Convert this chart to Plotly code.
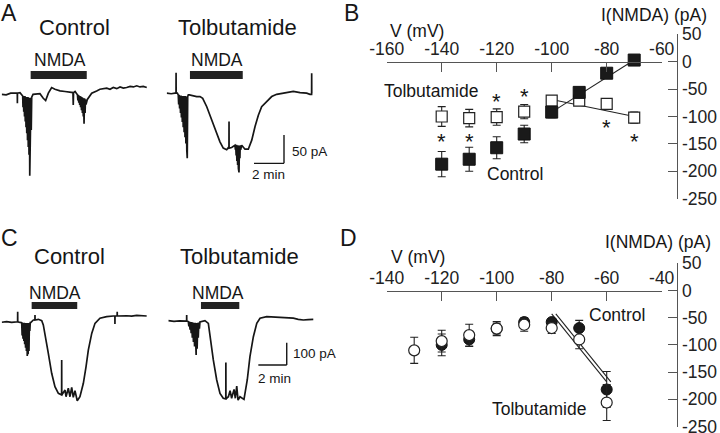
import plotly.graph_objects as go

# ---------------- data ----------------
# panel A: NMDA currents (time in min, current in pA)
a_ctrl_t = [0.00, 0.30, 0.60, 1.00, 1.04, 1.045, 1.05, 1.22, 1.38,
            1.40, 1.42, 1.45, 1.47, 1.50, 1.52, 1.55, 1.57, 1.60, 1.62, 1.65, 1.67, 1.70,
            1.72, 1.75, 1.77, 1.80, 1.82, 1.85, 1.87, 1.90, 1.92, 1.95, 1.97, 2.00,
            2.09, 2.55, 2.77, 2.93, 3.11, 3.33, 3.55, 3.89, 4.22, 4.55, 4.75, 4.77, 4.79, 4.89, 5.05,
            5.08, 5.10, 5.14, 5.16, 5.20, 5.22, 5.26, 5.28, 5.32, 5.34, 5.38, 5.40, 5.44, 5.46,
            5.49, 5.52, 5.56, 5.58, 5.62,
            5.71, 6.00, 6.33, 6.55, 7.00, 7.22, 7.44, 7.67, 7.89, 8.11, 8.33, 8.56, 8.78, 9.00,
            9.22, 9.44, 9.67]
a_ctrl_i = [3, 2, 5, 5, 5, -13, 5, 6, 2,
            0, -20, 0, -28, 0, -36, 0, -45, -2, -55, -2, -66, -2,
            -78, -2, -90, -3, -104, -3, -141, -3, -95, -3, -60, -2,
            3, 4, -4, -8, 5, 15, 12, 9, 8, 6, 6, -16, 6, 8, 2,
            -8, 2, -12, 1, -16, 0, -20, -1, -25, -2, -30, -3, -36, -4,
            -49, -4, -30, -6, -15,
            -6, 5, 9, 12, 14, 12, 15, 13, 16, 14, 15, 17, 16, 18,
            16, 17, 15]

a_tolb_t = [0.00, 0.30, 0.55, 0.62, 0.625, 0.63, 0.71,
            0.77, 0.80, 0.83, 0.86, 0.89, 0.92, 0.95, 0.98, 1.01, 1.04, 1.07, 1.10,
            1.13, 1.16, 1.19, 1.22, 1.25, 1.28, 1.31, 1.34, 1.37, 1.40, 1.44,
            1.51, 1.77, 2.00, 2.22, 2.40, 2.67, 2.89, 3.11, 3.33, 3.55, 3.77, 4.00, 4.11,
            4.15, 4.155, 4.16, 4.33, 4.55,
            4.58, 4.60, 4.63, 4.65, 4.68, 4.70, 4.73, 4.75, 4.78, 4.80, 4.82, 4.85, 4.88, 4.90, 4.93,
            5.00, 5.22, 5.44, 5.67, 5.89, 6.11, 6.33, 6.67, 7.00, 7.33, 7.78, 8.11, 8.44, 8.89,
            9.33, 9.55, 9.66, 9.665, 9.67]
a_tolb_i = [5, 4, 5, 5, 41, 5, 5,
            2, -15, 2, -22, 1, -30, 1, -38, 0, -46, 0, -55,
            0, -64, 0, -73, 0, -84, -1, -96, -110, -1, 2,
            2, 0, -1, -1, -4, -19, -34, -48, -63, -81, -92, -95, -91,
            -92, -45, -92, -91, -87,
            -95, -86, -105, -86, -115, -87, -122, -87, -128, -88, -135, -88, -110, -87, -95,
            -87, -94, -94, -78, -54, -34, -19, -10, -1, 3, 5, 6, 8, 6,
            5, 3, 3, 40, 5]

# panel C: NMDA currents (time in min, current in pA)
c_ctrl_t = [0.00, 0.35, 0.70, 1.06, 1.12, 1.125, 1.13, 1.30,
            1.41, 1.44, 1.47, 1.50, 1.53, 1.56, 1.59, 1.62, 1.65, 1.68, 1.71, 1.74, 1.77,
            1.80, 1.83, 1.86, 1.89, 1.92, 1.95, 1.98, 2.01,
            2.04, 2.23, 2.34, 2.345, 2.35, 2.58, 2.82, 2.93, 3.05, 3.28, 3.52, 3.75, 3.99,
            4.18, 4.22, 4.225, 4.23, 4.46, 4.53, 4.69, 4.81, 4.93, 5.04, 5.16, 5.32, 5.51,
            5.75, 5.94, 6.10, 6.34, 6.57, 6.92, 7.39, 7.86, 7.97, 7.975, 7.98, 8.13, 8.135,
            8.14, 8.80, 9.15, 9.51, 9.85, 10.21]
c_ctrl_i = [-1, 2, -2, 1.5, 1, 46, 1, -2,
            -3, -60, -3, -75, -3, -85, -3, -100, -4, -115, -4, -130, -5,
            -152, -5, -145, -5, -130, -4, -40, -3,
            -3, 9, 9, 31, 9, 12, 6, -13, -51, -140, -230, -290, -320,
            -327, -327, -170, -327, -305, -335, -297, -335, -293, -338, -308, -353, -335,
            -275, -200, -126, -51, -6, 17, 24, 27, 27, -9, 27, 27, 46,
            27, 28, 26, 30, 28, 27]

c_tolb_t = [0.00, 0.40, 0.80, 1.18, 1.29, 1.295, 1.30,
            1.41, 1.45, 1.49, 1.53, 1.57, 1.61, 1.65, 1.69, 1.73, 1.77, 1.81, 1.85, 1.89,
            1.93, 1.96, 1.99, 2.03, 2.07, 2.11, 2.15, 2.19, 2.23,
            2.28, 2.58, 2.82, 2.94, 3.17, 3.41, 3.64, 3.87, 4.05, 4.055, 4.06,
            4.23, 4.35, 4.46, 4.63, 4.72, 4.82, 4.91, 5.05, 5.33,
            5.56, 5.75, 5.99, 6.23, 6.46, 6.93, 7.40, 7.87, 8.33, 8.80, 9.15, 9.51, 9.85, 10.21]
c_tolb_i = [6, 3, 5, 4.5, 4, 31, 4,
            2, -20, 2, -35, 0, -50, 0, -70, -2, -90, -3, -110, -4,
            -135, -148, -4, -120, -3, -70, -2, -30, 0,
            1, 6, -6, -66, -170, -260, -320, -342, -345, -182, -345,
            -335, -308, -342, -302, -342, -287, -350, -335, -347,
            -260, -155, -66, -6, 17, 24, 22, 21, 19, 17, 12, 9, 11, 12]

# NMDA application (min)
nmda_a_ctrl = [1.93, 5.67]
nmda_a_tolb = [1.55, 5.07]
nmda_c_ctrl = [2.11, 5.32]
nmda_c_tolb = [2.30, 5.00]

# panel B: I-V relation (mV, pA)
b_v = [-140, -130, -120, -110, -100, -90, -80, -70]
b_ctrl = [-187, -178, -157, -132, -92, -56, -21, 3]
b_ctrl_err = [23, 22, 20, 16, 10, 6, 6, 8]
b_tolb = [-100, -103, -101, -91, -71, -71, -77, -102]
b_tolb_err = [18, 16, 15, 13, 6, 6, 6, 10]
b_fit_v = [-100, -70]
b_fit_ctrl = [-92, 3]
b_fit_tolb = [-69, -100]
b_sig_v = [-140, -130, -120, -110, -80, -70]
b_sig_i = [-134, -134, -61, -52, -110, -134]
b_xticks = [-160, -140, -120, -100, -80, -60]

# panel D: I-V relation (mV, pA)
d_ctrl_v = [-120, -110, -100, -90, -80, -70, -60]
d_ctrl = [-100, -90, -70, -58, -58, -69, -182]
d_ctrl_err = [20, 13, 10, 8, 6, 14, 33]
d_tolb_v = [-130, -120, -110, -100, -90, -80, -70, -60]
d_tolb = [-110, -93, -82, -70, -63, -69, -90, -206]
d_tolb_err = [24, 20, 20, 13, 12, 10, 17, 33]
d_fit_ctrl_v = [-80, -60]
d_fit_ctrl = [-43, -168]
d_fit_tolb_v = [-78.5, -58.5]
d_fit_tolb = [-43, -168]
d_xticks = [-140, -120, -100, -80, -60, -40]

i_ticks = [50, 0, -50, -100, -150, -200, -250]

# ---------------- layout helpers ----------------
W, H = 720, 433
FONT = "Liberation Sans, Arial, sans-serif"
INK = "#161616"
AXC = "#555555"


def px(x):
    return x / W


def py(y):
    return 1 - y / H


# trace panels: pixel scale
A_PX_MIN, A_PX_PA, A_BASE = 15.0, 0.566, 96.0
C_PX_MIN, C_PX_PA, C_BASE = 14.2, 0.223, 322.0

fig = go.Figure()

trace_style = dict(mode="lines", line=dict(color=INK, width=1.7), hoverinfo="skip")
fig.add_trace(go.Scatter(x=a_ctrl_t, y=a_ctrl_i, xaxis="x", yaxis="y", **trace_style))
fig.add_trace(go.Scatter(x=a_tolb_t, y=a_tolb_i, xaxis="x2", yaxis="y", **trace_style))
fig.add_trace(go.Scatter(x=c_ctrl_t, y=c_ctrl_i, xaxis="x3", yaxis="y3", **trace_style))
fig.add_trace(go.Scatter(x=c_tolb_t, y=c_tolb_i, xaxis="x4", yaxis="y3", **trace_style))

# panel B
fig.add_trace(go.Scatter(x=b_fit_v, y=b_fit_ctrl, xaxis="x5", yaxis="y5", mode="lines",
                         line=dict(color="#222", width=1.1)))
fig.add_trace(go.Scatter(x=b_fit_v, y=b_fit_tolb, xaxis="x5", yaxis="y5", mode="lines",
                         line=dict(color="#222", width=1.1)))
fig.add_trace(go.Scatter(x=b_v, y=b_tolb, xaxis="x5", yaxis="y5", mode="markers", cliponaxis=False,
                         error_y=dict(type="data", array=b_tolb_err, color="#222", thickness=1.1, width=4),
                         marker=dict(symbol="square", size=11, color="white", line=dict(color="#222", width=1.2))))
fig.add_trace(go.Scatter(x=b_v, y=b_ctrl, xaxis="x5", yaxis="y5", mode="markers", cliponaxis=False,
                         error_y=dict(type="data", array=b_ctrl_err, color="#222", thickness=1.1, width=4),
                         marker=dict(symbol="square", size=12, color="#1a1a1a", line=dict(color="#111", width=1))))

# panel D
fig.add_trace(go.Scatter(x=d_fit_ctrl_v, y=d_fit_ctrl, xaxis="x6", yaxis="y6", mode="lines",
                         line=dict(color="#222", width=1.1)))
fig.add_trace(go.Scatter(x=d_fit_tolb_v, y=d_fit_tolb, xaxis="x6", yaxis="y6", mode="lines",
                         line=dict(color="#222", width=1.1)))
fig.add_trace(go.Scatter(x=d_ctrl_v, y=d_ctrl, xaxis="x6", yaxis="y6", mode="markers", cliponaxis=False,
                         error_y=dict(type="data", array=d_ctrl_err, color="#222", thickness=1.1, width=4),
                         marker=dict(symbol="circle", size=11, color="#1a1a1a", line=dict(color="#111", width=1))))
fig.add_trace(go.Scatter(x=d_tolb_v, y=d_tolb, xaxis="x6", yaxis="y6", mode="markers", cliponaxis=False,
                         error_y=dict(type="data", array=d_tolb_err, color="#222", thickness=1.1, width=4),
                         marker=dict(symbol="circle", size=11, color="white", line=dict(color="#222", width=1.2))))

hidden = dict(visible=False, showgrid=False, zeroline=False, fixedrange=True, automargin=False)
iv_x = dict(anchor="free", side="top", showline=True, linecolor=AXC, linewidth=1.3,
            ticks="inside", ticklen=9, tickwidth=1.3, tickcolor=AXC, showgrid=False, zeroline=False,
            tickfont=dict(family=FONT, size=17.5, color="#222"), automargin=False,
            ticklabeloverflow="allow")
iv_y = dict(anchor="free", side="right", showline=True, linecolor=AXC, linewidth=1.3,
            ticks="inside", ticklen=9, tickwidth=1.3, tickcolor=AXC, showgrid=False, zeroline=False,
            range=[-250, 50], tickvals=i_ticks, ticktext=[str(v) for v in i_ticks],
            tickfont=dict(family=FONT, size=17.5, color="#222"), automargin=False,
            ticklabeloverflow="allow", position=px(677.3))

fig.update_layout(
    template="none",
    width=W, height=H, margin=dict(l=0, r=0, t=0, b=0, pad=0),
    paper_bgcolor="white", plot_bgcolor="white", showlegend=False,
    font=dict(family=FONT, size=17.5, color=INK),
    xaxis=dict(domain=[px(1.7), px(161.7)], range=[0, 160 / A_PX_MIN], anchor="y", **hidden),
    xaxis2=dict(domain=[px(166.7), px(326.7)], range=[0, 160 / A_PX_MIN], anchor="y", **hidden),
    yaxis=dict(domain=[py(216), py(0)], range=[(A_BASE - 216) / A_PX_PA, A_BASE / A_PX_PA], anchor="x", **hidden),
    xaxis3=dict(domain=[px(1.7), px(161.7)], range=[0, 160 / C_PX_MIN], anchor="y3", **hidden),
    xaxis4=dict(domain=[px(168.3), px(328.3)], range=[0, 160 / C_PX_MIN], anchor="y3", **hidden),
    yaxis3=dict(domain=[py(433), py(216)], range=[(C_BASE - 433) / C_PX_PA, (C_BASE - 216) / C_PX_PA],
                anchor="x3", **hidden),
    xaxis5=dict(domain=[px(386.7), px(661.7)], range=[-160, -60], position=py(61.7),
                tickvals=b_xticks, ticktext=[str(v) for v in b_xticks], **iv_x),
    yaxis5=dict(domain=[py(198.7), py(34.3)], **iv_y),
    xaxis6=dict(domain=[px(386.7), px(661.7)], range=[-140, -40], position=py(290.7),
                tickvals=d_xticks, ticktext=[str(v) for v in d_xticks], **iv_x),
    yaxis6=dict(domain=[py(426.5), py(263.3)], **iv_y),
)

# NMDA bars and scale bars
shapes = []
for xr, (t0, t1), y0, y1 in [("x", nmda_a_ctrl, 71, 79), ("x2", nmda_a_tolb, 71, 79),
                             ("x3", nmda_c_ctrl, 302, 309), ("x4", nmda_c_tolb, 302, 309)]:
    shapes.append(dict(type="rect", xref=xr, yref="paper", x0=t0, x1=t1, y0=py(y1), y1=py(y0),
                       fillcolor="#222", line=dict(width=0)))

# scale bars: 50 pA / 2 min (A), 100 pA / 2 min (C)
a_sb_t, a_sb_i = 7.82, -119
c_sb_t, c_sb_i = 8.34, -193
for xr, yr, t, i, pa in [("x2", "y", a_sb_t, a_sb_i, 50), ("x4", "y3", c_sb_t, c_sb_i, 100)]:
    shapes.append(dict(type="line", xref=xr, yref=yr, x0=t, x1=t, y0=i, y1=i + pa,
                       line=dict(color=INK, width=1.4)))
    shapes.append(dict(type="line", xref=xr, yref=yr, x0=t - 2, x1=t, y0=i, y1=i,
                       line=dict(color=INK, width=1.4)))
fig.update_layout(shapes=shapes)

# significance asterisks (glyph sits high in the line box, so shift down)
for v, i in zip(b_sig_v, b_sig_i):
    fig.add_annotation(text="*", x=v, y=i, xref="x5", yref="y5", showarrow=False,
                       xanchor="center", yanchor="middle", yshift=-6,
                       font=dict(family=FONT, size=22, color=INK))

# text
texts = [
    ("A", 9, 13, 23), ("B", 351, 13, 23), ("C", 9, 238, 23), ("D", 348, 238, 23),
    ("Control", 74, 28, 22), ("Tolbutamide", 237.5, 28, 22),
    ("Control", 69, 256, 22), ("Tolbutamide", 239, 256, 22),
    ("NMDA", 59.5, 60, 17.5), ("NMDA", 217, 60, 17.5),
    ("NMDA", 54.7, 292.5, 17.5), ("NMDA", 218, 292.5, 17.5),
    ("50 pA", 309.5, 151.7, 13.5), ("2 min", 268.5, 174, 13.5),
    ("100 pA", 314, 353, 13.5), ("2 min", 274, 378.7, 13.5),
    ("V (mV)", 416.5, 31, 17.5), ("I(NMDA) (pA)", 653.5, 15, 17.5),
    ("V (mV)", 418, 256.7, 17.5), ("I(NMDA) (pA)", 658, 242, 17.5),
    ("Tolbutamide", 430.5, 90.7, 17.5), ("Control", 515, 174, 17.5),
    ("Control", 617, 315, 17.5), ("Tolbutamide", 538.7, 408.7, 17.5),
]
for s, x, y, size in texts:
    fig.add_annotation(text=s, x=px(x), y=py(y), xref="paper", yref="paper", showarrow=False,
                       xanchor="center", yanchor="middle",
                       font=dict(family=FONT, size=size, color=INK))

# no page margin around the figure div, no modebar
fig.write_html("out.html", config={"displayModeBar": False},
               post_script="document.body.style.margin='0';document.body.style.overflow='hidden';")
